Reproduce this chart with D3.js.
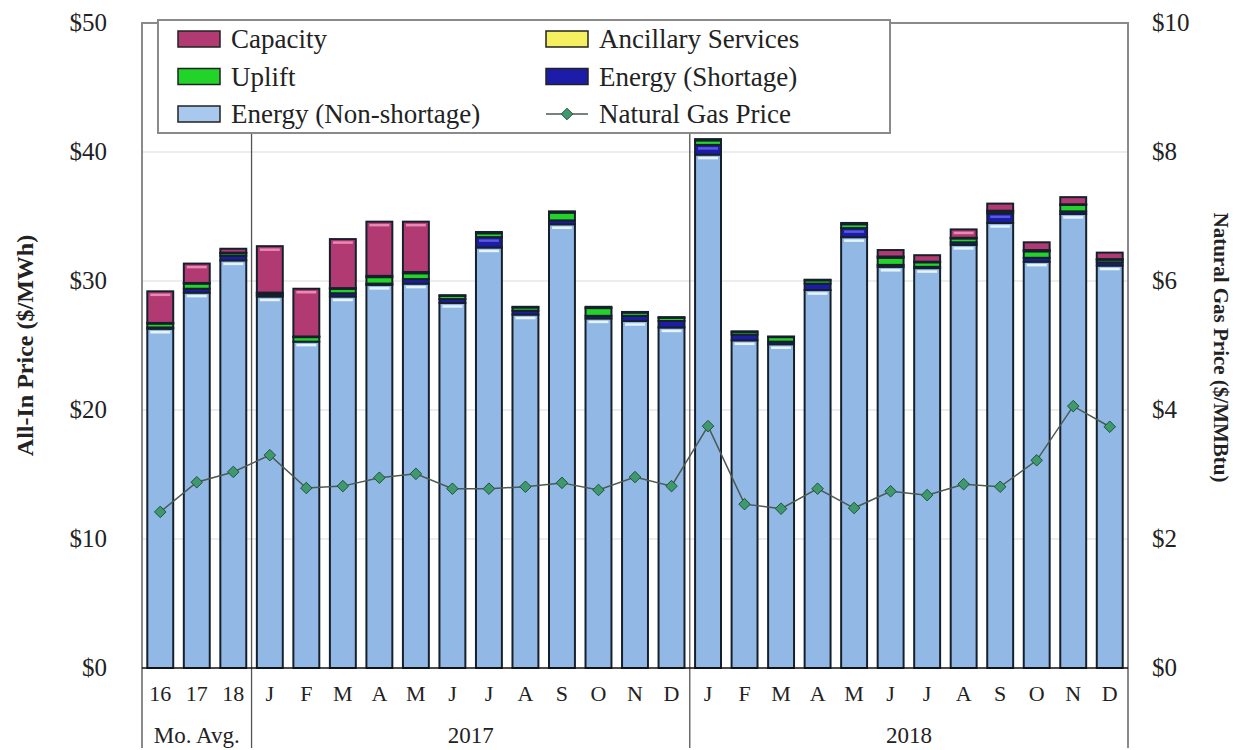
<!DOCTYPE html>
<html>
<head>
<meta charset="utf-8">
<script src="https://cdn.jsdelivr.net/npm/d3@7"></script>
<style>
  body { margin: 0; background: #fff; }
  text { font-family: "Liberation Serif", "DejaVu Serif", serif; fill: #222; }
</style>
</head>
<body>
<div id="container"></div>
<script>
// categories (3 averages, then months of 2017 and 2018)
let categories = ["16","17","18","J","F","M","A","M","J","J","A","S","O","N","D","J","F","M","A","M","J","J","A","S","O","N","D"];
let groups = [
  { label: "Mo. Avg.", from: 0, to: 3 },
  { label: "2017", from: 3, to: 15 },
  { label: "2018", from: 15, to: 27 }
];

// $/MWh components
let energy    = [26.3,29.1,31.6,28.8,25.3,28.8,29.7,29.8,28.3,32.6,27.4,34.4,27.1,26.9,26.4, 39.8,25.4,25.1,29.3,33.4,31.1,31.0,32.8,34.5,31.5,35.2,31.2];
let shortage  = [0.1,0.3,0.35,0.1,0.0,0.25,0.1,0.35,0.3,0.8,0.3,0.3,0.2,0.4,0.5, 0.75,0.45,0.2,0.5,0.7,0.15,0.1,0.2,0.75,0.3,0.2,0.25];
let uplift    = [0.3,0.4,0.2,0.15,0.35,0.35,0.5,0.45,0.25,0.3,0.25,0.6,0.6,0.25,0.25, 0.35,0.2,0.35,0.25,0.3,0.55,0.35,0.3,0.15,0.5,0.5,0.2];
let ancillary = [0.05,0.05,0.05,0.05,0.05,0.05,0.1,0.1,0.05,0.1,0.05,0.1,0.1,0.05,0.05, 0.1,0.05,0.05,0.05,0.1,0.1,0.05,0.05,0.05,0.1,0.05,0.05];
let capacity  = [2.45,1.5,0.3,3.6,3.7,3.8,4.2,3.9,0,0,0,0,0,0,0, 0,0,0,0,0,0.5,0.5,0.65,0.55,0.6,0.55,0.5];
// $/MMBtu
let gasPrice  = [2.42,2.88,3.04,3.30,2.79,2.82,2.95,3.01,2.78,2.78,2.81,2.87,2.76,2.96,2.82, 3.75,2.54,2.47,2.78,2.48,2.74,2.68,2.85,2.81,3.22,4.06,3.74];

let leftTicks = [0,10,20,30,40,50];
let rightTicks = [0,2,4,6,8,10];

let series = [
  { name: "Energy (Non-shortage)", values: energy, color: "#92b8e6", hi: "#e6f4ff" },
  { name: "Energy (Shortage)", values: shortage, color: "#1c1ca8", hi: "#5a5ae0" },
  { name: "Uplift", values: uplift, color: "#22d42a", hi: "#9dff9d" },
  { name: "Ancillary Services", values: ancillary, color: "#f4f060", hi: "#ffffc0" },
  { name: "Capacity", values: capacity, color: "#b23a72", hi: "#e88ab4" }
];

let w = 1246;
let h = 750;
let plotLeft = 142, plotRight = 1128, plotTop = 23, plotBottom = 668;

let viz = d3.select("#container")
  .append("svg")
    .attr("width", w)
    .attr("height", h)
    .style("background-color", "white");

let xScale = d3.scaleBand()
  .domain(d3.range(categories.length))
  .range([plotLeft, plotRight])
  .paddingInner(0.29)
  .paddingOuter(0.145);

let yScale = d3.scaleLinear().domain([0, 50]).range([plotBottom, plotTop]);
let y2Scale = d3.scaleLinear().domain([0, 10]).range([plotBottom, plotTop]);

// gridlines
viz.selectAll(".grid").data(leftTicks.slice(1, -1)).enter()
  .append("line")
    .attr("x1", plotLeft).attr("x2", plotRight)
    .attr("y1", d => yScale(d)).attr("y2", d => yScale(d))
    .style("stroke", "#dcdcdc").style("stroke-width", 1.2);

// frame
viz.append("path")
  .attr("d", `M${plotLeft},${h - 2}V${plotTop}H${plotRight}V${h - 2}`)
  .style("fill", "none").style("stroke", "#8a8a8a").style("stroke-width", 2);

// separators between groups
viz.selectAll(".sep").data(groups.slice(1)).enter()
  .append("line")
    .attr("x1", d => xScale(d.from) - xScale.step() * 0.145)
    .attr("x2", d => xScale(d.from) - xScale.step() * 0.145)
    .attr("y1", plotTop).attr("y2", h - 2)
    .style("stroke", "#555").style("stroke-width", 1.3);

// stacked bars
let stacked = categories.map((c, i) => {
  let y0 = 0;
  return series.map(s => {
    let seg = { i: i, y0: y0, y1: y0 + s.values[i], s: s };
    y0 = seg.y1;
    return seg;
  }).filter(seg => seg.y1 - seg.y0 > 0);
});

let barGroups = viz.selectAll(".bar").data(stacked).enter()
  .append("g").attr("class", "bar");

barGroups.selectAll("rect").data(d => d).enter()
  .append("rect")
    .attr("x", d => xScale(d.i))
    .attr("width", xScale.bandwidth())
    .attr("y", d => yScale(d.y1))
    .attr("height", d => yScale(d.y0) - yScale(d.y1))
    .style("fill", d => d.s.color)
    .style("stroke", "#16202c")
    .style("stroke-width", 2);

// small highlight stripe near the top of the taller segments
barGroups.selectAll(".hi").data(d => d.filter(seg => yScale(seg.y0) - yScale(seg.y1) > 8)).enter()
  .append("line")
    .attr("x1", d => xScale(d.i) + 3)
    .attr("x2", d => xScale(d.i) + xScale.bandwidth() - 3)
    .attr("y1", d => yScale(d.y1) + 3.5)
    .attr("y2", d => yScale(d.y1) + 3.5)
    .style("stroke", d => d.s.hi)
    .style("stroke-width", 2.5);

// baseline
viz.append("line")
  .attr("x1", plotLeft).attr("x2", plotRight)
  .attr("y1", plotBottom).attr("y2", plotBottom)
  .style("stroke", "#111").style("stroke-width", 1.5);

// gas price line
let line = d3.line()
  .x((d, i) => xScale(i) + xScale.bandwidth() / 2)
  .y(d => y2Scale(d));

viz.append("path")
  .datum(gasPrice)
  .attr("d", line)
  .style("fill", "none").style("stroke", "#4b5a52").style("stroke-width", 1.5);

let diamond = d3.symbol().type(d3.symbolDiamond2).size(85);
viz.selectAll(".gas").data(gasPrice).enter()
  .append("path")
    .attr("d", diamond)
    .attr("transform", (d, i) => `translate(${xScale(i) + xScale.bandwidth() / 2},${y2Scale(d)})`)
    .style("fill", "#3e9a6e").style("stroke", "#24503a").style("stroke-width", 1);

// left axis labels
viz.selectAll(".lt").data(leftTicks).enter()
  .append("text")
    .attr("x", 107).attr("y", d => yScale(d) + 8)
    .attr("text-anchor", "end")
    .style("font-size", "25px")
    .text(d => "$" + d);

// right axis labels
viz.selectAll(".rt").data(rightTicks).enter()
  .append("text")
    .attr("x", 1152).attr("y", d => y2Scale(d) + 8)
    .style("font-size", "25px")
    .text(d => "$" + d);

// axis titles
viz.append("text")
  .attr("transform", `translate(33,${(plotTop + plotBottom) / 2}) rotate(-90)`)
  .attr("text-anchor", "middle")
  .style("font-size", "24px").style("font-weight", "bold")
  .text("All-In Price ($/MWh)");

viz.append("text")
  .attr("transform", `translate(1214,${(plotTop + plotBottom) / 2 + 2}) rotate(90)`)
  .attr("text-anchor", "middle")
  .style("font-size", "21px").style("font-weight", "bold")
  .text("Natural Gas Price ($/MMBtu)");

// category labels
viz.selectAll(".cat").data(categories).enter()
  .append("text")
    .attr("x", (d, i) => xScale(i) + xScale.bandwidth() / 2)
    .attr("y", 701)
    .attr("text-anchor", "middle")
    .style("font-size", "22px")
    .text(d => d);

viz.selectAll(".grp").data(groups).enter()
  .append("text")
    .attr("x", d => (xScale(d.from) + xScale(d.to - 1) + xScale.bandwidth()) / 2)
    .attr("y", 743)
    .attr("text-anchor", "middle")
    .style("font-size", "23px")
    .text(d => d.label);

// legend
let legendItems = [
  { name: "Capacity", color: "#b23a72", col: 0, row: 0 },
  { name: "Uplift", color: "#22d42a", col: 0, row: 1 },
  { name: "Energy (Non-shortage)", color: "#a8c8ee", col: 0, row: 2 },
  { name: "Ancillary Services", color: "#f4f060", col: 1, row: 0 },
  { name: "Energy (Shortage)", color: "#1c1ca8", col: 1, row: 1 },
  { name: "Natural Gas Price", color: null, col: 1, row: 2 }
];

viz.append("rect")
  .attr("x", 158).attr("y", 20).attr("width", 732).attr("height", 113)
  .style("fill", "white").style("stroke", "#8a8a8a").style("stroke-width", 2);

let leg = viz.selectAll(".leg").data(legendItems).enter()
  .append("g")
    .attr("transform", d => `translate(${d.col ? 546 : 178},${39 + d.row * 37.5})`);

leg.filter(d => d.color).append("rect")
  .attr("x", 0).attr("y", -8).attr("width", 42).attr("height", 16)
  .style("fill", d => d.color).style("stroke", "#222").style("stroke-width", 1.5);

leg.filter(d => !d.color).append("line")
  .attr("x1", 0).attr("x2", 42).attr("y1", 0).attr("y2", 0)
  .style("stroke", "#4b5a52").style("stroke-width", 1.5);
leg.filter(d => !d.color).append("path")
  .attr("d", diamond)
  .attr("transform", "translate(21,0)")
  .style("fill", "#3e9a6e").style("stroke", "#24503a");

leg.append("text")
  .attr("x", 53).attr("y", 9)
  .style("font-size", "27px")
  .text(d => d.name);
</script>
</body>
</html>
